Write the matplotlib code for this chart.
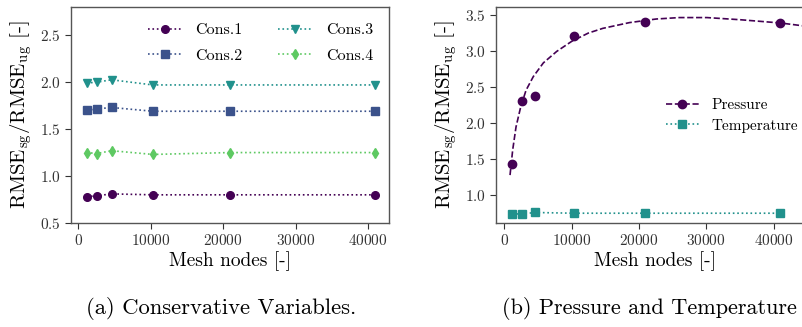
import numpy as np
import matplotlib
matplotlib.use('Agg')
import matplotlib.pyplot as plt

plt.rcParams['font.family'] = 'serif'
plt.rcParams['font.serif'] = ['cmr10']
plt.rcParams['mathtext.fontset'] = 'cm'
plt.rcParams['axes.formatter.use_mathtext'] = True

# %% data
nodes = [1150, 2600, 4600, 10300, 20900, 41000]
cons1 = [0.78, 0.79, 0.81, 0.80, 0.80, 0.80]
cons2 = [1.70, 1.715, 1.73, 1.69, 1.69, 1.69]
cons3 = [1.99, 2.00, 2.025, 1.97, 1.97, 1.97]
cons4 = [1.25, 1.24, 1.27, 1.23, 1.25, 1.25]

pressure = [1.42, 2.30, 2.37, 3.20, 3.40, 3.38]
temperature = [0.73, 0.73, 0.75, 0.74, 0.74, 0.74]

# fitted pressure trend
fitX = [850, 1245, 1740, 2440, 3230, 4310, 5800, 7790, 10020, 12490, 14630,
        18590, 22560, 26000, 30100, 35050, 39000, 41000, 43970, 45500]
fitY = [1.27, 1.62, 1.94, 2.22, 2.45, 2.64, 2.83, 2.99, 3.13, 3.245, 3.31,
        3.39, 3.44, 3.46, 3.46, 3.43, 3.40, 3.385, 3.35, 3.33]

consNames = ['Cons.1', 'Cons.2', 'Cons.3', 'Cons.4']
consColors = ['#440154', '#3b528b', '#21918c', '#5ec962']
consMarkers = ['o', 's', 'v', 'd']

# %% figure
W, H = 803, 327
fig = plt.figure(figsize=(W / 100, H / 100), dpi=100)
ax1 = fig.add_axes([71 / W, 1 - 223 / H, 318 / W, 216 / H])
ax2 = fig.add_axes([496 / W, 1 - 223 / H, 318 / W, 216 / H])

ylabel = r'RMSE$_{\mathrm{sg}}$/RMSE$_{\mathrm{ug}}$ [-]'

for vals, name, col, mk in zip([cons1, cons2, cons3, cons4], consNames, consColors, consMarkers):
    ax1.plot(nodes, vals, ls=':', lw=1.2, color=col, marker=mk, ms=5.5, label=name)
ax1.set_xlim(-1000, 42900)
ax1.set_ylim(0.5, 2.8)
ax1.set_yticks([0.5, 1.0, 1.5, 2.0, 2.5])
ax1.legend(ncol=2, loc='upper right', frameon=False, fontsize=11.5,
           handlelength=2.2, columnspacing=2.2, borderaxespad=0.6, labelspacing=0.7)

ax2.plot(fitX, fitY, ls='--', lw=1.2, color='#440154')
ax2.plot(nodes, pressure, ls='none', marker='o', ms=6, color='#440154')
ax2.plot([], [], ls='--', lw=1.2, marker='o', ms=6, color='#440154', label='Pressure')
ax2.plot(nodes, temperature, ls=':', lw=1.2, marker='s', ms=5.5, color='#21918c', label='Temperature')
ax2.set_xlim(-1234, 46000)
ax2.set_ylim(0.604, 3.607)
ax2.set_yticks([1.0, 1.5, 2.0, 2.5, 3.0, 3.5])
ax2.legend(loc='center left', bbox_to_anchor=(0.49, 0.497), frameon=False, fontsize=11,
           handlelength=2.2, handletextpad=0.8, labelspacing=0.4)

for ax in (ax1, ax2):
    ax.set_xticks([0, 10000, 20000, 30000, 40000])
    ax.set_xlabel('Mesh nodes [-]', fontsize=14, labelpad=2)
    ax.set_ylabel(ylabel, fontsize=15, labelpad=4)
    ax.tick_params(labelsize=11, direction='out', length=4, colors='#333333', labelcolor='#333333')
    for s in ax.spines.values():
        s.set_color('#555555')
        s.set_linewidth(1.0)

fig.text(86 / W, 1 - 309 / H, '(a) Conservative Variables.', ha='left', va='center', fontsize=16.3)
fig.text(502 / W, 1 - 309 / H, '(b) Pressure and Temperature', ha='left', va='center', fontsize=16)

fig.savefig('out.png', dpi=100)
